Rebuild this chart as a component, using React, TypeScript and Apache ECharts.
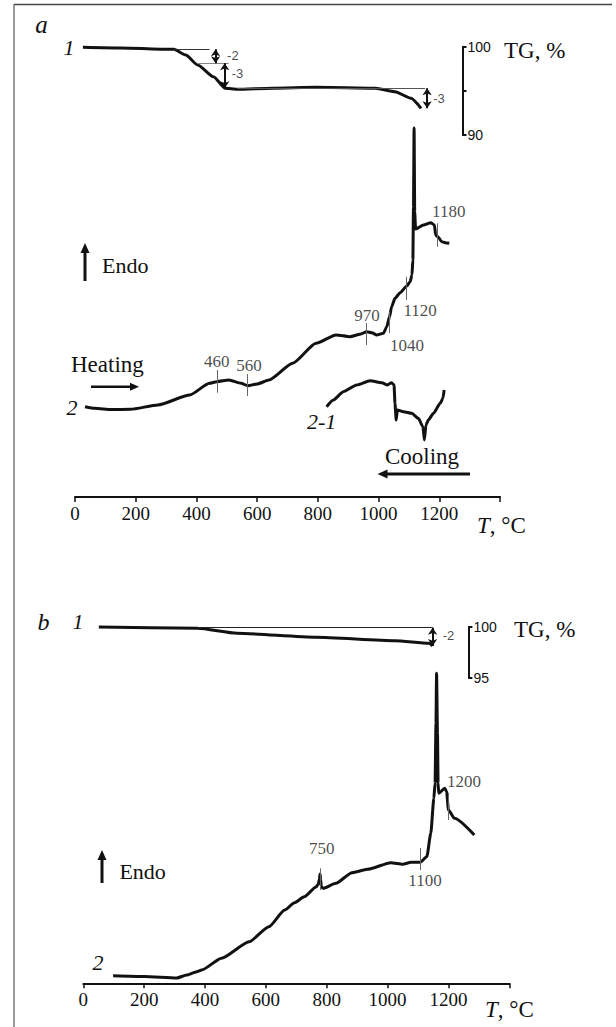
import React, { useEffect, useRef } from "react";
import * as echarts from "echarts";

// ---------- Panel a ----------
// Temperature axis (°C)
const T_MIN = 0;
const T_MAX = 1400;
const T_STEP = 200;

// Curve 1 (a): TG, % vs T
const tgA: [number, number][] = [
  [26, 99.93], [150, 99.85], [326, 99.7], [365, 99.06], [404, 97.93], [456, 96.6],
  [495, 95.29], [534, 95.18], [650, 95.3], [794, 95.4], [990, 95.29], [1054, 94.9],
  [1107, 94.16], [1140, 93.02],
];
// Curve 2 (a): DTA heating, arbitrary units
const dtaA: [number, number][] = [
  [33, 90.3], [66, 88.7], [120, 87.5], [183, 87.7], [273, 92], [378, 102], [443, 113.7],
  [467, 115.3], [507, 117], [547, 113.7], [569, 111.3], [600, 113], [639, 117], [717, 133.7],
  [794, 153.7], [860, 162], [906, 160.3], [939, 162.7], [961, 165.3], [978, 164.3], [994, 162],
  [1016, 163.7], [1027, 170.3], [1036, 180.3], [1043, 190.3], [1054, 198.7], [1071, 204.3],
  [1093, 211], [1104, 215.3], [1110, 222], [1113, 237], [1115, 290], [1117, 369], [1119, 285],
  [1122, 268], [1148, 272], [1172, 274.3], [1184, 272], [1188, 262], [1197, 259.7],
  [1208, 255.3], [1219, 254.3], [1233, 253.7],
];
// Curve 2-1 (a): DTA cooling
const dtaA_cool: [number, number][] = [
  [829, 90.3], [851, 97], [884, 105.3], [928, 112], [972, 116.3], [1011, 114.3], [1029, 112],
  [1043, 114.3], [1051, 112], [1054, 93.7], [1058, 77], [1062, 87], [1082, 85.3], [1109, 83.7],
  [1131, 78.7], [1146, 70.3], [1151, 57], [1156, 72], [1164, 77], [1181, 83.7], [1203, 93.7],
  [1212, 98.7], [1216, 107],
];
// Marker ticks on curve 2 (a): [T, from, to]
const ticksA: [number, number, number][] = [
  [467, 104.3, 127], [569, 101, 123], [961, 152, 174], [1036, 164, 185.3],
  [1091, 197, 220.3], [1192, 250.3, 273.7],
];
const labelsA: [number, number, string][] = [
  [467, 135.3, "460"], [573, 132, "560"], [962, 182, "970"], [1094, 152, "1040"],
  [1137, 187, "1120"], [1231, 285.3, "1180"],
];
// TG (a) reference levels: [T from, T to, %]
const tgRefA: [number, number, number][] = [
  [326, 443, 99.7], [404, 507, 98.12], [534, 1153, 95.29],
];
// TG (a) mass-loss arrows: [T, from %, to %]
const tgArrA: [number, number, number][] = [
  [463, 99.7, 98.12], [493, 98.12, 95.29], [1160, 95.29, 93.02],
];
const tgLabA: [number, number, string][] = [
  [520, 99.06, "-2"], [535, 97.02, "-3"], [1199, 94.19, "-3"],
];
const tgScaleA = [90, 95, 100];

// ---------- Panel b ----------
const tgB: [number, number][] = [
  [51, 100], [376, 99.87], [505, 99.38], [765, 98.99], [1024, 98.66], [1136, 98.4], [1148, 98.14],
];
const dtaB: [number, number][] = [
  [98, 7.6], [200, 6.8], [307, 5.3], [340, 8.3], [373, 11.6], [389, 13.3], [454, 25],
  [545, 41.6], [610, 56.6], [662, 73.3], [694, 80.6], [726, 86.6], [765, 96.3], [772, 99],
  [776, 104], [778, 109.3], [780, 104], [782, 97], [788, 95], [830, 100], [883, 110.6],
  [934, 114], [1011, 120.6], [1050, 119], [1077, 121], [1107, 121], [1129, 126.6],
  [1142, 150], [1152, 185], [1156, 200], [1159, 260], [1161, 310], [1164, 250], [1166, 200],
  [1168, 190], [1188, 195], [1194, 191.6], [1200, 173.3], [1220, 165], [1285, 148.3],
];
const ticksB: [number, number, number][] = [
  [778, 93.3, 115], [1107, 113.3, 135.3], [1200, 163.3, 190.3],
];
const labelsB: [number, number, string][] = [
  [784, 135.3, "750"], [1123, 103.3, "1100"], [1251, 202.3, "1200"],
];
const tgRefB: [number, number, number][] = [[376, 1148, 99.93]];
const tgArrB: [number, number, number][] = [[1148, 99.93, 98.14]];
const tgLabB: [number, number, string][] = [[1200, 99.12, "-2"]];
const tgScaleB = [95, 100];

const SERIF = "Liberation Serif, Times New Roman, serif";
const SANS = "Liberation Sans, Arial, sans-serif";
const INK = "#111";

function txt(text: string, x: number, y: number, size: number, italic = false, align = "left") {
  const style: any = {
    text,
    fontSize: size,
    fontFamily: SERIF,
    fill: INK,
    align,
    verticalAlign: "middle",
  };
  if (italic) style.fontStyle = "italic";
  return { type: "text", x, y, silent: true, style };
}

function arrow(x1: number, y1: number, x2: number, y2: number, w: number, hl: number, hw: number) {
  const dx = x2 - x1;
  const dy = y2 - y1;
  const len = Math.sqrt(dx * dx + dy * dy);
  const ux = dx / len;
  const uy = dy / len;
  const bx = x2 - ux * hl;
  const by = y2 - uy * hl;
  return {
    type: "group",
    silent: true,
    children: [
      { type: "line", shape: { x1, y1, x2: bx + ux, y2: by + uy }, style: { stroke: INK, lineWidth: w } },
      {
        type: "polygon",
        shape: {
          points: [
            [x2, y2],
            [bx - uy * hw, by + ux * hw],
            [bx + uy * hw, by - ux * hw],
          ],
        },
        style: { fill: INK },
      },
    ],
  };
}

function tickLines(list: [number, number, number][]) {
  return list.map(([t, a, b]) => [{ coord: [t, a] }, { coord: [t, b] }]);
}

function refLines(list: [number, number, number][], colors: string[]) {
  return list.map(([t0, t1, v], i) => [
    { coord: [t0, v], lineStyle: { color: colors[i % colors.length], width: 1, type: "solid" } },
    { coord: [t1, v] },
  ]);
}

function arrowLines(list: [number, number, number][]) {
  return list.map(([t, a, b]) => [
    { coord: [t, a], symbol: "arrow", symbolSize: [7, 7], lineStyle: { color: INK, width: 2, type: "solid" } },
    { coord: [t, b], symbol: "arrow", symbolSize: [7, 7] },
  ]);
}

function labelSeries(xi: number, yi: number, list: [number, number, string][], size: number, font: string) {
  return {
    type: "scatter",
    xAxisIndex: xi,
    yAxisIndex: yi,
    silent: true,
    clip: false,
    symbolSize: 1,
    itemStyle: { color: "rgba(0,0,0,0)" },
    data: list.map(([t, v, s]) => ({ value: [t, v], name: s })),
    label: {
      show: true,
      position: [0.5, 0.5],
      align: "center",
      verticalAlign: "middle",
      formatter: (p: any) => p.name,
      fontSize: size,
      fontFamily: font,
      color: "#1a1a1a",
      textBorderWidth: 0,
    },
  };
}

export default function App() {
  const ref = useRef<HTMLDivElement>(null);

  useEffect(() => {
    if (!ref.current) return;
    const chart = echarts.init(ref.current, null, { renderer: "svg", width: 616, height: 1027 });

    // pixel scale of the temperature axis in each panel
    const aLeft = 75, aWidth = 425;
    const bLeft = 83.3, bWidth = 426;
    const aScaleX = 462.5; // TG scale bar position (a)
    const bScaleX = 468.4; // TG scale bar position (b)
    const aTgMax = ((aScaleX - aLeft) / aWidth) * T_MAX;
    const bTgMax = ((bScaleX - bLeft) / bWidth) * T_MAX;

    const visibleX = (gi: number) => ({
      type: "value",
      gridIndex: gi,
      min: T_MIN,
      max: T_MAX,
      interval: T_STEP,
      position: "bottom",
      splitLine: { show: false },
      axisLine: { show: true, onZero: false, lineStyle: { color: INK, width: 2 } },
      axisTick: { show: true, inside: false, length: 5, lineStyle: { color: INK, width: 1.5 } },
      axisLabel: {
        show: true,
        margin: 7,
        fontSize: 19,
        fontFamily: SERIF,
        color: INK,
        formatter: (v: number) => (v === T_MAX ? "" : String(v)),
      },
    });
    const hiddenX = (gi: number, max: number) => ({
      type: "value",
      gridIndex: gi,
      min: T_MIN,
      max,
      show: false,
    });
    const tgY = (gi: number, min: number, max: number, ticks: number[], labels: number[]) => ({
      type: "value",
      gridIndex: gi,
      min,
      max,
      position: "right",
      splitLine: { show: false },
      axisLine: { show: true, onZero: false, lineStyle: { color: INK, width: 2 } },
      axisTick: { show: true, inside: false, length: 4, customValues: ticks, lineStyle: { color: INK, width: 2 } },
      axisLabel: {
        show: true,
        margin: 5,
        fontSize: 14,
        fontFamily: SANS,
        color: INK,
        customValues: labels,
      },
    });

    const lineBase = {
      type: "line",
      showSymbol: false,
      symbol: "none",
      smooth: 0.2,
      smoothMonotone: "x",
      silent: true,
      lineStyle: { color: INK, width: 3 },
    };

    const tRich = {
      i: { fontStyle: "italic", fontSize: 23, fontFamily: SERIF, fill: INK },
      n: { fontSize: 23, fontFamily: SERIF, fill: INK },
    };

    const option: any = {
      animation: false,
      backgroundColor: "#ffffff",
      grid: [
        { left: aLeft, width: aWidth, top: 100, height: 397 },
        { left: aLeft, width: aScaleX - aLeft, top: 46.7, height: 88.3 },
        { left: bLeft, width: bWidth, top: 650, height: 333.3 },
        { left: bLeft, width: bScaleX - bLeft, top: 627, height: 51 },
      ],
      xAxis: [visibleX(0), hiddenX(1, aTgMax), visibleX(2), hiddenX(3, bTgMax)],
      yAxis: [
        { type: "value", gridIndex: 0, min: 0, max: 397, show: false },
        tgY(1, 90, 100, tgScaleA, [90, 100]),
        { type: "value", gridIndex: 2, min: 0, max: 333.3, show: false },
        tgY(3, 95, 100, tgScaleB, tgScaleB),
      ],
      series: [
        {
          ...lineBase,
          name: "2",
          xAxisIndex: 0,
          yAxisIndex: 0,
          data: dtaA,
          markLine: {
            silent: true,
            symbol: ["none", "none"],
            label: { show: false },
            lineStyle: { color: "#666", width: 1, type: "solid" },
            data: tickLines(ticksA),
          },
        },
        { ...lineBase, name: "2-1", xAxisIndex: 0, yAxisIndex: 0, data: dtaA_cool },
        {
          ...lineBase,
          name: "1",
          xAxisIndex: 1,
          yAxisIndex: 1,
          clip: false,
          data: tgA,
          markLine: {
            silent: true,
            symbol: ["none", "none"],
            label: { show: false },
            lineStyle: { color: "#333", width: 1, type: "solid" },
            data: [...refLines(tgRefA, ["#333", "#888", "#555"]), ...arrowLines(tgArrA)],
          },
        },
        {
          ...lineBase,
          name: "2b",
          xAxisIndex: 2,
          yAxisIndex: 2,
          data: dtaB,
          markLine: {
            silent: true,
            symbol: ["none", "none"],
            label: { show: false },
            lineStyle: { color: "#666", width: 1, type: "solid" },
            data: tickLines(ticksB),
          },
        },
        {
          ...lineBase,
          name: "1b",
          xAxisIndex: 3,
          yAxisIndex: 3,
          clip: false,
          data: tgB,
          markLine: {
            silent: true,
            symbol: ["none", "none"],
            label: { show: false },
            lineStyle: { color: "#222", width: 1.5, type: "solid" },
            data: [...refLines(tgRefB, ["#222"]), ...arrowLines(tgArrB)],
          },
        },
        labelSeries(0, 0, labelsA, 17, SERIF),
        labelSeries(2, 2, labelsB, 17, SERIF),
        labelSeries(1, 1, tgLabA, 13, SANS),
        labelSeries(3, 3, tgLabB, 13, SANS),
      ],
      graphic: [
        // frame
        { type: "line", silent: true, shape: { x1: 14, y1: 4.5, x2: 612, y2: 4.5 }, style: { stroke: "#444", lineWidth: 1.5 } },
        { type: "line", silent: true, shape: { x1: 14, y1: 4, x2: 14, y2: 1027 }, style: { stroke: "#777", lineWidth: 1.5 } },
        // panel a
        txt("a", 41.5, 24, 25, true, "center"),
        txt("1", 69, 47, 22, true, "center"),
        txt("TG, %", 504, 50, 23),
        arrow(85, 281, 85, 243, 3, 10, 4.5),
        txt("Endo", 102, 265, 22),
        txt("Heating", 71, 364, 23),
        arrow(91, 386.7, 139, 386.7, 2.5, 9, 4),
        txt("2", 72, 407.5, 22, true, "center"),
        txt("2-1", 307, 421.7, 22, true),
        txt("Cooling", 385, 456, 23),
        arrow(470, 474, 377.5, 474, 3, 10, 4.5),
        {
          type: "text",
          x: 477,
          y: 525,
          silent: true,
          style: { text: "{i|T}{n|, °C}", fill: INK, align: "left", verticalAlign: "middle", fontSize: 23, fontFamily: SERIF, rich: tRich },
        },
        // panel b
        txt("b", 43.5, 621.7, 24, true, "center"),
        txt("1", 78, 621, 22, true, "center"),
        txt("TG, %", 514, 629, 23),
        arrow(102, 883, 102, 850, 3, 10, 4.5),
        txt("Endo", 119.4, 871.5, 22),
        txt("2", 98, 962, 22, true, "center"),
        {
          type: "text",
          x: 485,
          y: 1009,
          silent: true,
          style: { text: "{i|T}{n|, °C}", fill: INK, align: "left", verticalAlign: "middle", fontSize: 23, fontFamily: SERIF, rich: tRich },
        },
      ],
    };

    chart.setOption(option);
    return () => chart.dispose();
  }, []);

  return (
    <div
      ref={ref}
      style={{ position: "absolute", left: 0, top: 0, width: 616, height: 1027, background: "#fff" }}
    />
  );
}
